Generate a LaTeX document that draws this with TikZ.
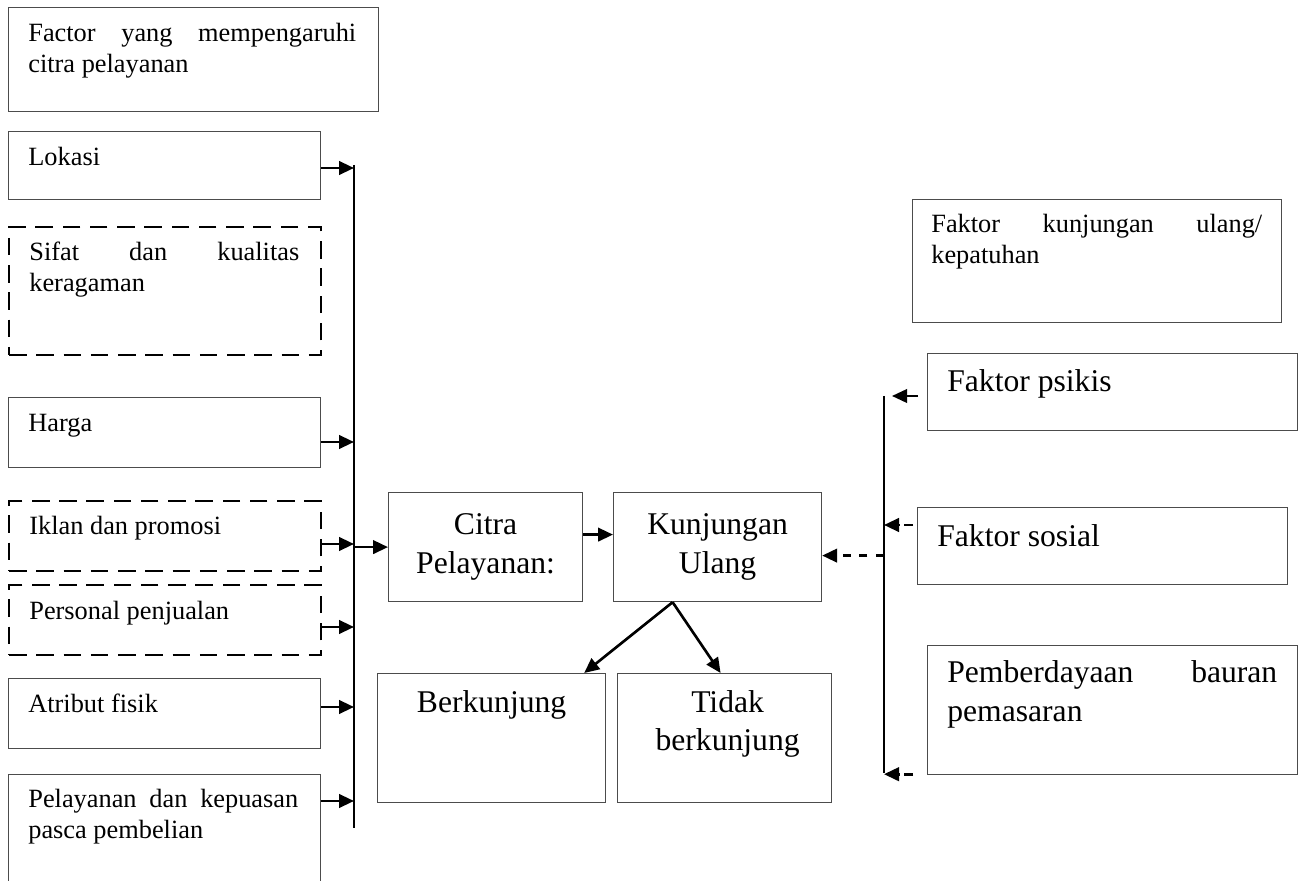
\documentclass[tikz,border=0pt]{standalone}
\usepackage{fontspec}
\setmainfont{Liberation Serif}
\usepackage{tikz}
\usetikzlibrary{arrows.meta, positioning, calc}
\hyphenpenalty=10000

\begin{document}
\begin{tikzpicture}[x=0.02cm, y=-0.02cm, >={Triangle[length=0.3cm, width=0.27cm]}]
            % box, text and arrow styles
            \tikzset{
                bx/.style={draw=black!70, line width=0.7pt, rectangle, anchor=north west, inner sep=0pt},
                dbx/.style={bx, draw=black, line width=1.4pt, dash pattern=on 10pt off 5.5pt},
                sm/.style={font=\fontsize{15pt}{17.5pt}\selectfont, inner sep=0pt, anchor=base west, text width=5.4cm, align=justify},
                bg/.style={font=\fontsize{18pt}{22pt}\selectfont, inner sep=0pt},
                arr/.style={->, line width=1.5pt},
                darr/.style={->, line width=1.5pt, dash pattern=on 4.5pt off 5pt},
                sdarr/.style={->, line width=1.5pt, dash pattern=on 5pt off 2.5pt},
                bus/.style={line width=1.2pt}
            }
            \useasboundingbox (0,0) rectangle (1303,881);
            % left column: factors of service image
            \node[bx, minimum width=7.4cm, minimum height=2.08cm] (factor) at (8,7) {};
            \node[bx, minimum width=6.24cm, minimum height=1.36cm] (lokasi) at (8,131) {};
            \node[dbx, minimum width=6.24cm, minimum height=2.56cm] (sifat) at (8,226) {};
            \node[bx, minimum width=6.24cm, minimum height=1.4cm] (harga) at (8,397) {};
            \node[dbx, minimum width=6.24cm, minimum height=1.4cm] (iklan) at (8,500) {};
            \node[dbx, minimum width=6.24cm, minimum height=1.4cm] (personal) at (8,584) {};
            \node[bx, minimum width=6.24cm, minimum height=1.4cm] (atribut) at (8,678) {};
            \node[bx, minimum width=6.24cm, minimum height=2.8cm] (pelayanan) at (8,774) {};
            % left texts
            \node[sm, text width=6.56cm] (factortxt) at ($(factor.north west)+(20,35)$) {Factor yang mempengaruhi\linebreak citra pelayanan};
            \node[sm] (lokasitxt) at ($(lokasi.north west)+(20,35)$) {Lokasi};
            \node[sm] (sifattxt) at ($(sifat.north west)+(21,35)$) {Sifat dan kualitas\linebreak keragaman};
            \node[sm] (hargatxt) at ($(harga.north west)+(20,35)$) {Harga};
            \node[sm] (iklantxt) at ($(iklan.north west)+(21,35)$) {Iklan dan promosi};
            \node[sm] (personaltxt) at ($(personal.north west)+(21,36)$) {Personal penjualan};
            \node[sm] (atributtxt) at ($(atribut.north west)+(20,35)$) {Atribut fisik};
            \node[sm] (pelayanantxt) at ($(pelayanan.north west)+(20,34)$) {Pelayanan dan kepuasan\linebreak pasca pembelian};
            % middle boxes
            \node[bx, bg, align=center, minimum width=3.88cm, minimum height=2.18cm] (citra) at (388,492) {Citra\\Pelayanan:};
            \node[bx, bg, align=center, minimum width=4.16cm, minimum height=2.18cm] (kunj) at (613,492) {Kunjungan\\Ulang};
            \node[bx, minimum width=4.56cm, minimum height=2.58cm] (berk) at (377,673) {};
            \node[bx, minimum width=4.28cm, minimum height=2.58cm] (tidak) at (617,673) {};
            \node[bg, anchor=base] (berktxt) at ($(berk.north)+(0,40)$) {Berkunjung};
            \node[bg, anchor=base, align=center] (tidaktxt) at ($(tidak.north)+(3,78)$) {Tidak\\berkunjung};
            % right column: factors of repeat visits
            \node[bx, minimum width=7.38cm, minimum height=2.46cm] (fkunj) at (912,199) {};
            \node[bx, minimum width=7.4cm, minimum height=1.54cm] (psikis) at (927,353) {};
            \node[bx, minimum width=7.4cm, minimum height=1.54cm] (sosial) at (917,507) {};
            \node[bx, minimum width=7.4cm, minimum height=2.58cm] (pemb) at (927,645) {};
            \node[sm, text width=6.62cm] (fkunjtxt) at ($(fkunj.north west)+(19,34)$) {Faktor kunjungan ulang/\linebreak kepatuhan};
            \node[bg, anchor=base west] (psikistxt) at ($(psikis.north west)+(20,39)$) {Faktor psikis};
            \node[bg, anchor=base west] (sosialtxt) at ($(sosial.north west)+(20,40)$) {Faktor sosial};
            \node[bg, anchor=base west, text width=6.6cm, align=justify] (pembtxt) at ($(pemb.north west)+(20,38)$) {Pemberdayaan bauran\linebreak pemasaran};
            % left bus and its arrows
            \coordinate (busLtop) at (354,165);
            \coordinate (busLbot) at (354,828);
            \draw[bus] (busLtop) -- (busLbot);
            \foreach \b/\d in {lokasi/37, harga/45, iklan/44, personal/43, atribut/29, pelayanan/27} {
                \coordinate (s) at ($(\b.north east)+(0,\d)$);
                \draw[arr] (s) -- (s -| busLtop);
            }
            \draw[arr] (citra.west -| busLtop) -- (citra.west);
            \draw[arr] ([yshift=0.25cm]citra.east) -- ([yshift=0.25cm]kunj.west);
            \draw[arr] ([xshift=-0.9cm]kunj.south) -- ([xshift=-0.44cm]berk.north east);
            \draw[arr] ([xshift=-0.9cm]kunj.south) -- ([xshift=-0.08cm]tidak.north);
            % right bus and its arrows
            \coordinate (busRtop) at (884,396);
            \coordinate (busRbot) at (884,773);
            \draw[bus] (busRtop) -- (busRbot);
            \coordinate (pin) at ($(psikis.west |- busRtop)+(-9,0)$);
            \draw[arr, line width=1.2pt] (pin) -- ($(busRtop)+(8,0)$);
            \coordinate (sin) at ($(sosial.north west)+(-4,18)$);
            \draw[sdarr] (sin) -- (sin -| busRtop);
            \coordinate (bin) at ($(pemb.south west)+(-14,-1)$);
            \draw[sdarr] (bin) -- (bin -| busRtop);
            \coordinate (kin) at ($(kunj.east)+(0,8.5)$);
            \draw[darr] (kin -| busRtop) -- (kin);
        \end{tikzpicture}
\end{document}
